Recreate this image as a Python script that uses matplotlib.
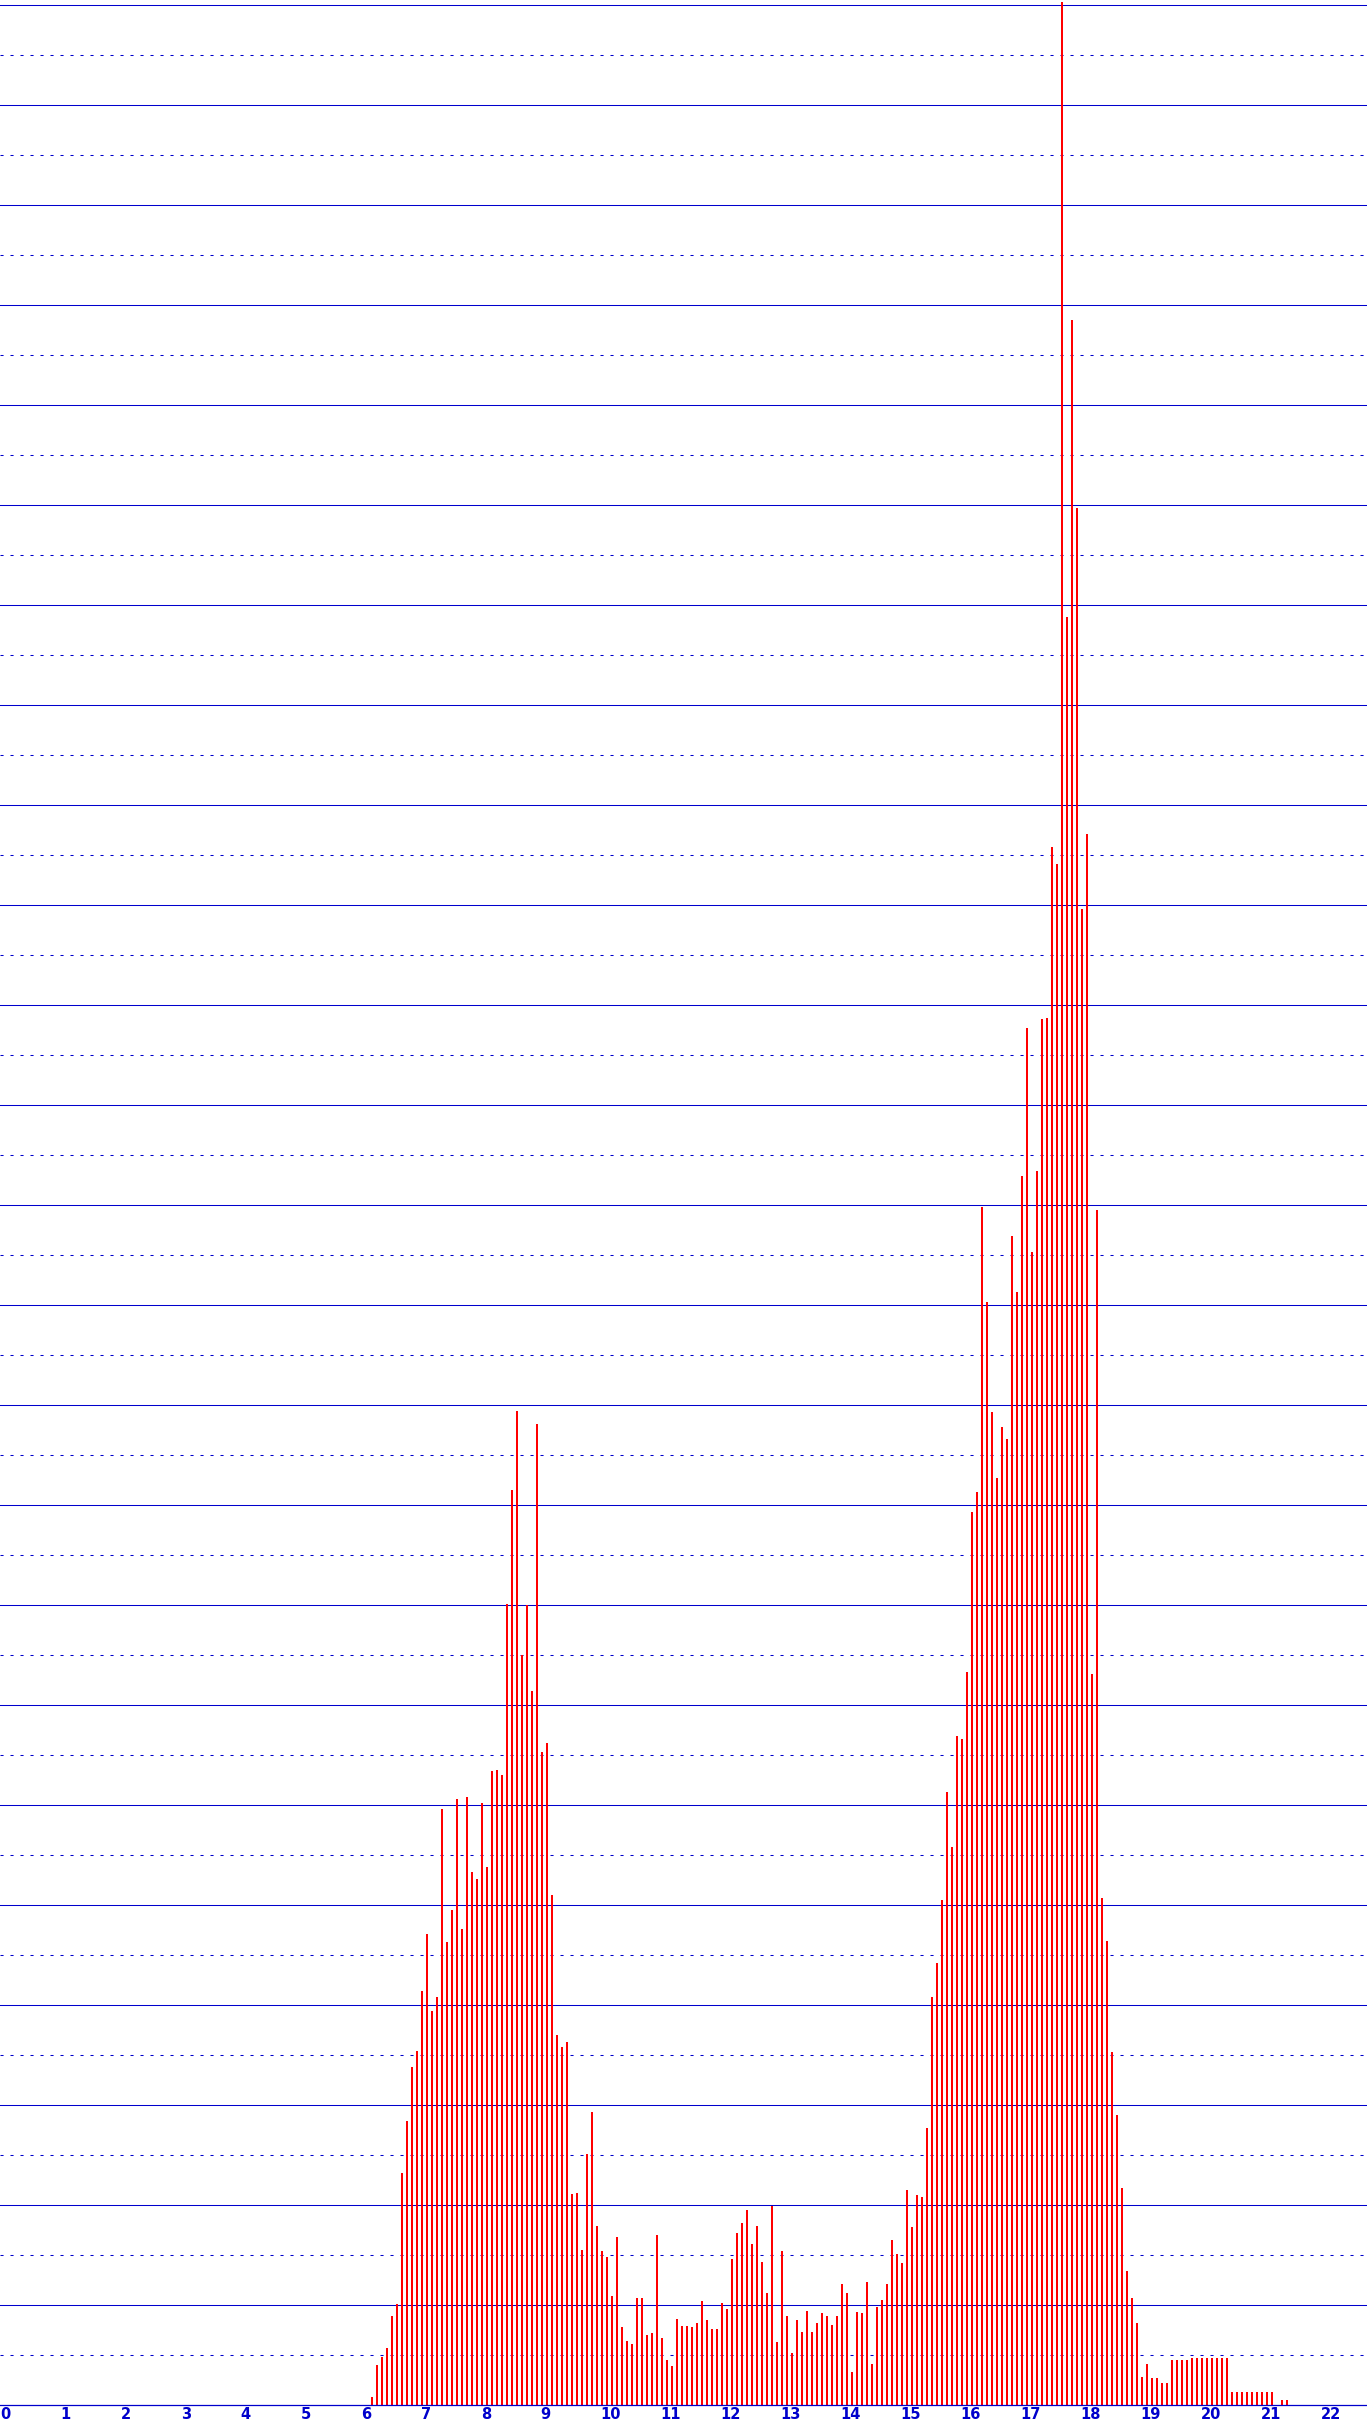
import numpy as np
import matplotlib
matplotlib.use("Agg")
import matplotlib.pyplot as plt


# -----------------------------
# Data (5-minute bins, first bin starts 06:10)
# -----------------------------
BIN_MINUTES = 5
FIRST_BIN = (6, 10)  # hh, mm

counts = [
    8, 40, 48, 57, 89, 101, 232, 284, 338, 354, 414, 471,          # 06:10 -
    394, 408, 596, 463, 495, 606, 476, 608, 533, 526, 602, 538,    # 07:10 -
    634, 635, 630, 801, 915, 994, 750, 800, 714, 981, 653, 662,    # 08:10 -
    510, 370, 358, 363, 211, 212, 155, 251, 293, 179, 154, 148,    # 09:10 -
    109, 168, 78, 64, 61, 107, 107, 70, 72, 170, 67, 45,           # 10:10 -
    39, 86, 79, 79, 78, 82, 104, 85, 76, 76, 102, 96,              # 11:10 -
    146, 172, 182, 195, 161, 179, 143, 112, 199, 63, 154, 89,      # 12:10 -
    52, 85, 73, 94, 73, 82, 92, 89, 80, 89, 121, 112,              # 13:10 -
    33, 93, 92, 123, 41, 98, 105, 121, 165, 151, 142, 215,         # 14:10 -
    178, 210, 208, 277, 408, 442, 505, 613, 558, 669, 666, 733,    # 15:10 -
    893, 913, 1198, 1103, 993, 927, 978, 966, 1169, 1113, 1229, 1377,  # 16:10 -
    1153, 1234, 1386, 1387, 1558, 1541, 2403, 1788, 2085, 1897, 1496, 1571,  # 17:10 -
    731, 1195, 507, 464, 353, 290, 217, 134, 107, 82, 28, 41,      # 18:10 -
    27, 27, 22, 22, 45, 45, 45, 45, 47, 47, 47, 47,                # 19:10 -
    47, 47, 47, 47, 13, 13, 13, 13, 13, 13, 13, 13,                # 20:10 -
    13, 0, 5, 5,                                                   # 21:10 -
]

hour_ticks = list(range(0, 23))
hour_labels = [str(h) for h in hour_ticks]

# -----------------------------
# Styling
# -----------------------------
W_PX, H_PX, DPI = 1367, 2425, 100
PX_PER_HOUR = 60.0
BLUE = "#0000cc"
RED = "#ff0000"

plt.rcParams["lines.scale_dashes"] = False

fig = plt.figure(figsize=(W_PX / DPI, H_PX / DPI), dpi=DPI)
base_px = 19.7  # baseline distance from bottom edge
ax = fig.add_axes([0.0, base_px / H_PX, 1.0, 1.0 - base_px / H_PX])

x0 = -0.7 / PX_PER_HOUR
ax.set_xlim(x0, x0 + W_PX / PX_PER_HOUR)
ax.set_ylim(0, H_PX - base_px)

# grid: solid every 100, dotted half way
grid_step = 100
for y in np.arange(grid_step, 2401, grid_step):
    ax.axhline(y, color=BLUE, linewidth=0.75, zorder=1)
for y in np.arange(grid_step / 2, 2401, grid_step):
    ax.axhline(y, color=BLUE, linewidth=0.75, linestyle=(0, (2.2, 5.0)),
               dash_capstyle="butt", zorder=1)

# ---- bars
start_h = FIRST_BIN[0] + FIRST_BIN[1] / 60.0
x_bins = start_h + np.arange(len(counts)) * BIN_MINUTES / 60.0
ax.bar(x_bins, counts, width=2.2 / PX_PER_HOUR, align="edge",
       color=RED, linewidth=0, antialiased=False, zorder=2)

# ---- axes
for side in ["top", "right", "left"]:
    ax.spines[side].set_visible(False)
ax.spines["bottom"].set_color(BLUE)
ax.spines["bottom"].set_linewidth(0.9)
ax.spines["bottom"].set_zorder(3)

ax.set_yticks([])
ax.set_xticks(hour_ticks)
ax.set_xticklabels(hour_labels)
ax.tick_params(axis="x", length=0, pad=1.2, labelsize=10.5, labelcolor=BLUE)
for lab in ax.get_xticklabels():
    lab.set_horizontalalignment("left")
    lab.set_fontfamily("DejaVu Sans")
    lab.set_fontweight("bold")

fig.savefig("out.png", dpi=DPI, facecolor="white")
